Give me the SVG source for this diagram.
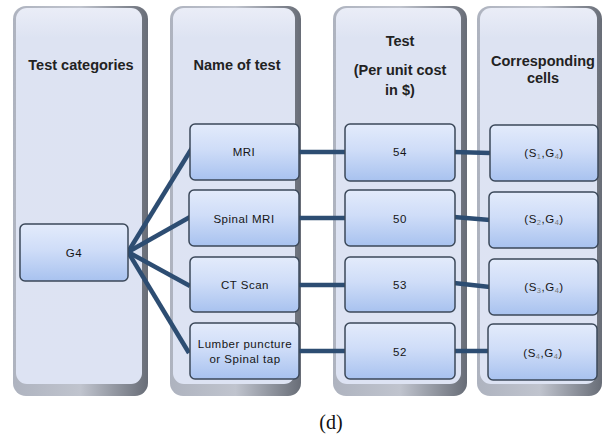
<svg xmlns="http://www.w3.org/2000/svg" width="602" height="446" viewBox="0 0 602 446">
<defs>
<linearGradient id="bevel" x1="0" y1="0" x2="1" y2="0">
<stop offset="0" stop-color="#aeb3bf"/>
<stop offset="0.5" stop-color="#c0c4ce"/>
<stop offset="1" stop-color="#686d77"/>
</linearGradient>
<linearGradient id="face" x1="0" y1="0" x2="0" y2="1">
<stop offset="0" stop-color="#eaedf7"/>
<stop offset="0.08" stop-color="#dde3f2"/>
<stop offset="1" stop-color="#dde3f3"/>
</linearGradient>
<linearGradient id="box" x1="0" y1="0" x2="0" y2="1">
<stop offset="0" stop-color="#e3ebfb"/>
<stop offset="0.45" stop-color="#cfddf8"/>
<stop offset="1" stop-color="#a8c2ef"/>
</linearGradient>
<style>
.col-outer{fill:url(#bevel);}
.col-face{fill:url(#face);}
.hdr{font-family:"Liberation Sans",Arial,sans-serif;font-size:14.5px;font-weight:bold;fill:#222;text-anchor:middle;}
.bx{fill:url(#box);stroke:#3b4859;stroke-width:1.5;}
.lbl{font-family:"Liberation Sans",Arial,sans-serif;font-size:11.5px;fill:#151515;text-anchor:middle;letter-spacing:0.5px;}
.sub{font-size:7.5px;fill:#777;}
.con{stroke:#2d4d72;stroke-width:4.5;fill:none;}
</style>
</defs>
<rect width="602" height="446" fill="#ffffff"/>

<g id="col-categories">
<rect class="col-outer" x="13" y="6" width="135" height="390" rx="13"/>
<rect class="col-face" x="16" y="8" width="126" height="376" rx="11"/>
<text class="hdr" x="81" y="70">Test categories</text>
</g>
<g id="col-name">
<rect class="col-outer" x="170" y="6" width="131" height="390" rx="13"/>
<rect class="col-face" x="173" y="8" width="122" height="376" rx="11"/>
<text class="hdr" x="237" y="70">Name of test</text>
</g>
<g id="col-cost">
<rect class="col-outer" x="333" y="6" width="134" height="390" rx="13"/>
<rect class="col-face" x="336" y="8" width="125" height="376" rx="11"/>
<text class="hdr" x="400" y="46">Test</text>
<text class="hdr" x="400" y="75">(Per unit cost</text>
<text class="hdr" x="400" y="95">in $)</text>
</g>
<g id="col-cells">
<rect class="col-outer" x="477" y="6" width="125" height="390" rx="13"/>
<rect class="col-face" x="480" y="8" width="117" height="376" rx="11"/>
<text class="hdr" x="543" y="66">Corresponding</text>
<text class="hdr" x="543" y="83">cells</text>
</g>

<g id="connectors">
<line class="con" x1="128" y1="252" x2="192" y2="148"/>
<line class="con" x1="128" y1="252" x2="190" y2="217"/>
<line class="con" x1="128" y1="252" x2="190" y2="286"/>
<line class="con" x1="128" y1="252" x2="189" y2="353"/>
<line class="con" x1="298" y1="152" x2="347" y2="152"/>
<line class="con" x1="298" y1="218" x2="347" y2="218"/>
<line class="con" x1="298" y1="285" x2="347" y2="285"/>
<line class="con" x1="298" y1="351" x2="347" y2="351"/>
<line class="con" x1="454" y1="152" x2="490" y2="153"/>
<line class="con" x1="454" y1="217" x2="490" y2="220"/>
<line class="con" x1="454" y1="283" x2="490" y2="287"/>
<line class="con" x1="454" y1="351" x2="490" y2="351"/>
</g>

<g id="g4">
<rect class="bx" x="20" y="224" width="108" height="57" rx="5"/>
<text class="lbl" x="74" y="257">G4</text>
</g>

<g id="mri">
<rect class="bx" x="190" y="124" width="109" height="56" rx="5"/>
<text class="lbl" x="244" y="156">MRI</text>
</g>
<g id="spinal-mri">
<rect class="bx" x="189" y="190" width="110" height="56" rx="5"/>
<text class="lbl" x="244" y="223">Spinal MRI</text>
</g>
<g id="ct-scan">
<rect class="bx" x="190" y="257" width="109" height="55" rx="5"/>
<text class="lbl" x="245" y="289">CT Scan</text>
</g>
<g id="lumber">
<rect class="bx" x="190" y="323" width="109" height="56" rx="5"/>
<text class="lbl" x="245" y="348">Lumber puncture</text>
<text class="lbl" x="245" y="363">or Spinal tap</text>
</g>

<g id="cost-54">
<rect class="bx" x="345" y="124" width="110" height="57" rx="5"/>
<text class="lbl" x="400" y="156">54</text>
</g>
<g id="cost-50">
<rect class="bx" x="345" y="190" width="110" height="56" rx="5"/>
<text class="lbl" x="400" y="223">50</text>
</g>
<g id="cost-53">
<rect class="bx" x="345" y="257" width="110" height="55" rx="5"/>
<text class="lbl" x="400" y="289">53</text>
</g>
<g id="cost-52">
<rect class="bx" x="345" y="323" width="110" height="56" rx="5"/>
<text class="lbl" x="400" y="356">52</text>
</g>

<g id="cell-1">
<rect class="bx" x="490" y="125" width="108" height="56" rx="5"/>
<text class="lbl" x="544" y="157">(S<tspan class="sub" dy="2">1</tspan><tspan dy="-2">,G</tspan><tspan class="sub" dy="2">4</tspan><tspan dy="-2">)</tspan></text>
</g>
<g id="cell-2">
<rect class="bx" x="489" y="192" width="109" height="56" rx="5"/>
<text class="lbl" x="544" y="223">(S<tspan class="sub" dy="2">2</tspan><tspan dy="-2">,G</tspan><tspan class="sub" dy="2">4</tspan><tspan dy="-2">)</tspan></text>
</g>
<g id="cell-3">
<rect class="bx" x="489" y="259" width="109" height="56" rx="5"/>
<text class="lbl" x="544" y="291">(S<tspan class="sub" dy="2">3</tspan><tspan dy="-2">,G</tspan><tspan class="sub" dy="2">4</tspan><tspan dy="-2">)</tspan></text>
</g>
<g id="cell-4">
<rect class="bx" x="488" y="324" width="109" height="56" rx="5"/>
<text class="lbl" x="543" y="357">(S<tspan class="sub" dy="2">4</tspan><tspan dy="-2">,G</tspan><tspan class="sub" dy="2">4</tspan><tspan dy="-2">)</tspan></text>
</g>

<text x="331" y="429" font-family="Liberation Serif,Times New Roman,serif" font-size="20" fill="#111" text-anchor="middle">(d)</text>
</svg>
